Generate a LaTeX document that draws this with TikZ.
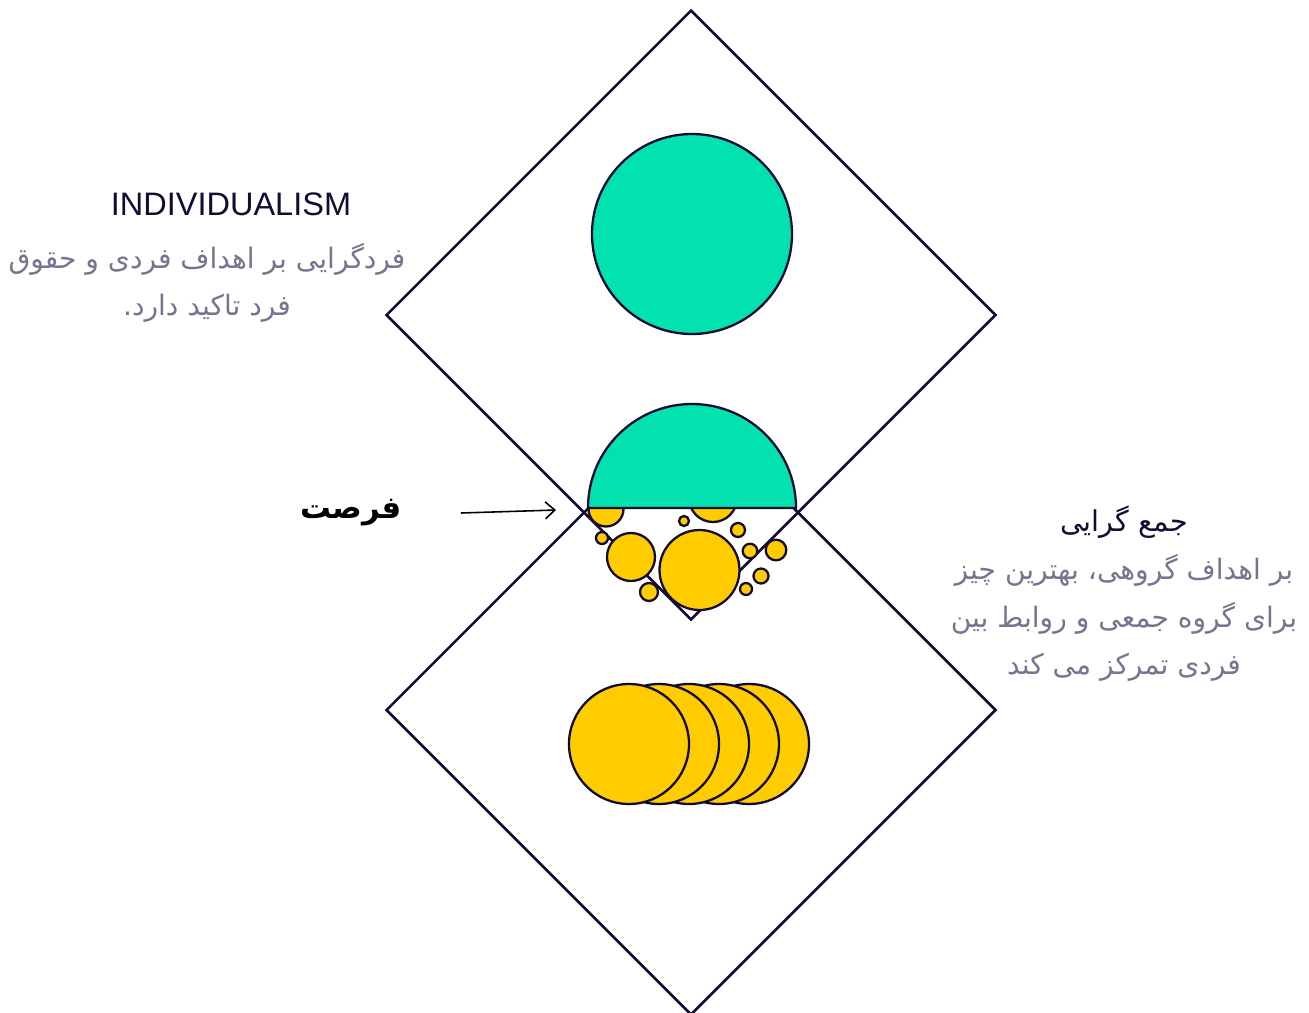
\documentclass[tikz,border=0pt]{standalone}
\usepackage{fontspec}
\setmainfont{Liberation Sans}
\newfontfamily\persianfont[Script=Arabic]{DejaVu Sans}
\TeXXeTstate=1
\usetikzlibrary{arrows.meta, shapes.geometric}
\definecolor{ink}{HTML}{120B33}
\definecolor{mint}{HTML}{02E2AE}
\definecolor{amber}{HTML}{FFCC00}
\definecolor{slate}{HTML}{77748F}

\begin{document}
\begin{tikzpicture}[x=0.02cm, y=-0.02cm, >={Straight Barb[length=1.9mm, width=3.4mm]}]
  \tikzstyle{frame} = [diamond, draw=ink, line width=1.5pt, minimum width=12.2cm, minimum height=12.2cm, inner sep=0pt]
  \tikzstyle{disc} = [draw=ink, line width=1.3pt]
  \tikzstyle{title} = [text=ink, font=\fontsize{18.5}{22}\selectfont]
  \tikzstyle{caption} = [text=slate, align=center, font=\persianfont\fontsize{16}{27}\selectfont]

  \useasboundingbox (0,0) rectangle (1309,1012);
  \clip (0,0) rectangle (1309,1012);

  \node [frame] (indiv) at (691,315) {};
  \node [frame] (collect) at (691,710) {};

  % overlap: small bubbles under the half disc
  \foreach \cx/\cy/\r in {606/509/17.5, 713/498/24, 684/521/5, 738/530/7, 602/538/6,
                          631/557/24, 699.5/570/40, 750/551/7.3, 776/550/10.3,
                          761/576/7.5, 746/589/6, 649/592/9}
    \draw [disc, fill=amber] (\cx,\cy) circle [radius=\r];
  \draw [disc, fill=mint] (588,508) arc [start angle=180, end angle=360, radius=104] -- cycle;

  \draw [disc, fill=mint] (692,234) circle [radius=100];
  \foreach \cx in {749,719,689,659,629}
    \draw [disc, fill=amber] (\cx,744) circle [radius=60];

  \node [title] (indtitle) at (231,204) {INDIVIDUALISM};
  \node [caption] (indtext) at (207,283) {\beginR فردگرایی بر اهداف فردی و حقوق\endR\\\beginR فرد تاکید دارد.\endR};

  \node [title, font=\persianfont\fontsize{16.3}{22}\selectfont] (coltitle) at (1124,522) {\beginR جمع گرایی\endR};
  \node [caption] (coltext) at (1124,618) {\beginR بر اهداف گروهی، بهترین چیز\endR\\\beginR برای گروه جمعی و روابط بین\endR\\\beginR فردی تمرکز می کند\endR};

  \node [font=\persianfont\bfseries\fontsize{17.5}{22}\selectfont] (chance) at (351,513) {\beginR فرصت\endR};
  \coordinate (tail) at (461,513);
  \coordinate (tip) at (556,510);
  \draw [->, line width=0.9pt] (tail) -- (tip);
\end{tikzpicture}
\end{document}
